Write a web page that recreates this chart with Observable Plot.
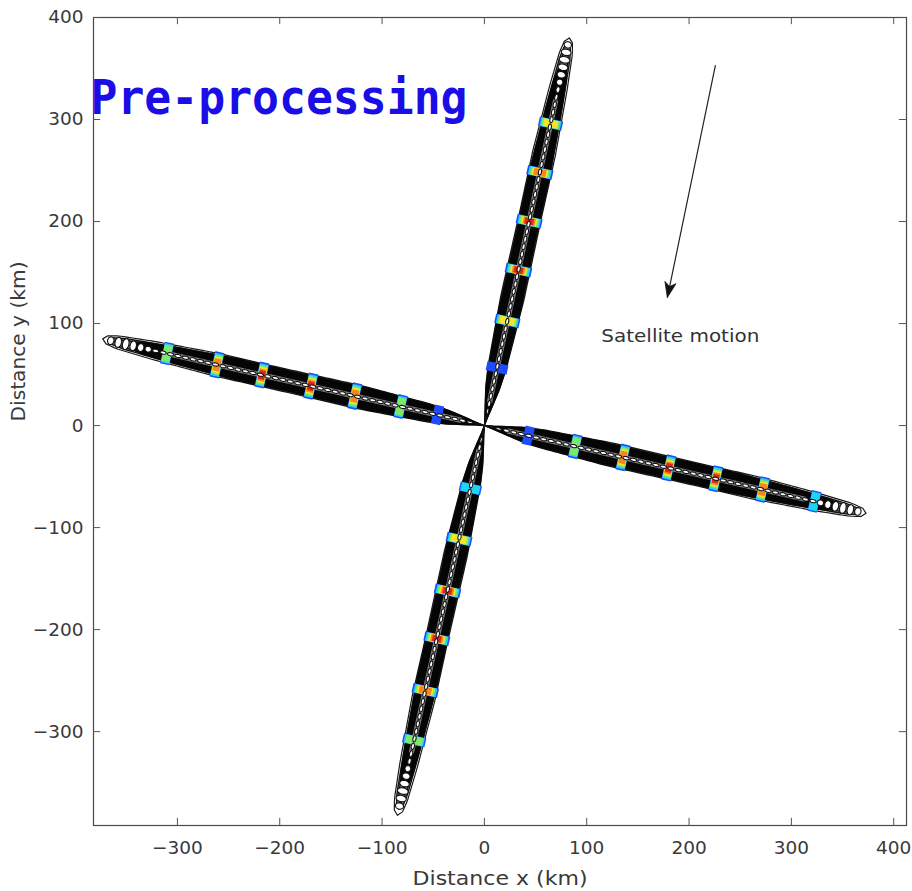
<!DOCTYPE html>
<html>
<head>
<meta charset="utf-8">
<script src="https://cdn.jsdelivr.net/npm/d3@7"></script>
<script src="https://cdn.jsdelivr.net/npm/@observablehq/plot@0.6"></script>
<style>
  body { margin: 0; background: #fff; }
  #chart svg { display: block; }
</style>
</head>
<body>
<div id="chart"></div>
<script>
// Axis ticks (km)
const xTicks = [-300, -200, -100, 0, 100, 200, 300, 400];
const yTicks = [-300, -200, -100, 0, 100, 200, 300, 400];
const xDomain = [-382, 412.5];
const yDomain = [-392, 400];

// The four arms of the cross: tip of each arm (km)
const armNames = ["north", "east", "south", "west"];
const armTipX = [83, 373, -85, -373];
const armTipY = [380, -86, -382, 85];

// Half-width (km) of the outer contour along an arm, at fractions of its length
const profileT = [0, 0.02, 0.05, 0.1, 0.15, 0.33, 0.55, 0.7, 0.87, 0.96, 0.99, 1];
const profileW = [0, 1.2, 3.5, 7, 9, 11.5, 11, 11.3, 8.8, 6.4, 4, 0];

// Hot spots along each arm: distance from the origin (km) and peak colour level (1 = blue ... 6 = red)
const northBlobDist = [58, 105, 156, 205, 254, 303];
const northBlobPeak = [1, 4, 6, 6, 5, 4];
const eastBlobDist = [44, 91, 139, 185, 232, 279, 331];
const eastBlobPeak = [1, 3, 5, 6, 6, 5, 2];
const southBlobDist = [63, 114, 166, 214, 266, 316];
const southBlobPeak = [2, 4, 6, 6, 5, 3];
const westBlobDist = [47, 84, 130, 174, 223, 268, 318];
const westBlobPeak = [1, 3, 5, 6, 6, 5, 3];

// Jet colour levels
const jetColors = ["#1f4cff", "#1fd3f2", "#7de86a", "#f4e52c", "#f6861f", "#e0261b"];

// Satellite motion arrow (km)
const arrowTail = {x: 225.7, y: 352.9};
const arrowHead = {x: 178.8, y: 125.5};
const arrowLabel = {x: 191.5, y: 87.2, text: "Satellite motion"};

const title = "Pre-processing";
const xLabel = "Distance x (km)";
const yLabel = "Distance y (km)";

// ---- geometry helpers ----
const blobDist = [northBlobDist, eastBlobDist, southBlobDist, westBlobDist];
const blobPeak = [northBlobPeak, eastBlobPeak, southBlobPeak, westBlobPeak];

const arms = armNames.map((name, i) => {
  const L = Math.hypot(armTipX[i], armTipY[i]);
  return {name, L, ux: armTipX[i] / L, uy: armTipY[i] / L};
});

// local (along, across) -> plot coordinates
const toXY = (a, s, n) => ({x: a.ux * s - a.uy * n, y: a.uy * s + a.ux * n});

function widthAt(t) {
  if (t <= 0 || t >= 1) return 0;
  const i = Math.min(profileT.length - 2, d3.bisectRight(profileT, t) - 1);
  const t0 = profileT[i], t1 = profileT[i + 1];
  return profileW[i] + (profileW[i + 1] - profileW[i]) * (t - t0) / (t1 - t0);
}

function spindle(a, lenFrac, scale, id, tStart = 0) {
  const N = 90, pts = [];
  for (let k = 0; k <= N; k++) {
    const t = tStart + (1 - tStart) * k / N;
    pts.push({id, ...toXY(a, t * a.L * lenFrac, widthAt(t) * scale)});
  }
  for (let k = N; k >= 0; k--) {
    const t = tStart + (1 - tStart) * k / N;
    pts.push({id, ...toXY(a, t * a.L * lenFrac, -widthAt(t) * scale)});
  }
  pts.push({...pts[0]});
  return pts;
}

function ellipse(a, s, along, across, id) {
  const pts = [];
  for (let k = 0; k <= 28; k++) {
    const th = 2 * Math.PI * k / 28;
    pts.push({id, ...toXY(a, s + along * Math.cos(th), across * Math.sin(th))});
  }
  return pts;
}

function band(a, s0, s1, h0, h1, id) {
  return [
    {id, ...toXY(a, s0, -h0)}, {id, ...toXY(a, s1, -h1)},
    {id, ...toXY(a, s1, h1)}, {id, ...toXY(a, s0, h0)}, {id, ...toXY(a, s0, -h0)}
  ];
}

const envelopes = [], bodies = [], hazes = [], strips = [], rings = [];
const blobLayers = jetColors.map(() => []);

arms.forEach((a, i) => {
  [[1, 1], [0.985, 0.8], [0.97, 0.6]].forEach(([lf, sc], j) =>
    envelopes.push(...spindle(a, lf, sc, `${a.name}-env${j}`)));
  bodies.push(...spindle(a, 0.93, 0.95, `${a.name}-body`, 0.01));
  hazes.push(...spindle(a, 0.985, 0.9, `${a.name}-haze`, 0.01));
  strips.push(...band(a, 0.06 * a.L, 0.84 * a.L, 2.6, 2.6, `${a.name}-strip`));

  blobDist[i].forEach((s, b) => {
    const p = blobPeak[i][b];
    const w = widthAt(s / a.L) + 1.5;
    for (let j = 0; j < p; j++) {
      const ha = w * (1 - 0.13 * j);
      const hl = 4.6 - 0.3 * j;
      blobLayers[j].push(...band(a, s - hl, s + hl, ha, ha, `${a.name}-b${b}-l${j}`));
    }
  });

  // chain of small closed contours down the middle of the arm, opening up toward the tip
  let k = 0;
  for (let s = 7; s < a.L - 3.5; s += 7.5, k++) {
    const t = s / a.L, w = widthAt(t);
    let across = Math.min(1.5, w * 0.4);
    if (t > 0.86) {
      const f = Math.min(1, (t - 0.86) / 0.08);
      across = across + (w * 0.78 - across) * f;
    }
    rings.push(...ellipse(a, s, 3.1, across, `${a.name}-r${k}`));
  }
});

// Arrow head: a notched triangle at the head end
const adx = arrowHead.x - arrowTail.x, ady = arrowHead.y - arrowTail.y;
const alen = Math.hypot(adx, ady), aux = adx / alen, auy = ady / alen;
const at = (back, side) => ({x: arrowHead.x - aux * back - auy * side, y: arrowHead.y - auy * back + aux * side});
const headPts = [at(0, 0), at(15, 5.5), at(11, 0), at(15, -5.5), at(0, 0)];
const shaftPts = [arrowTail, at(11, 0)];

const tickLen = 7;

const plot = Plot.plot({
  width: 912,
  height: 891,
  marginLeft: 93,
  marginRight: 6,
  marginTop: 17,
  marginBottom: 66,
  style: {fontFamily: "DejaVu Sans", fontSize: "18.5px", color: "#3a3a3a", background: "#fff"},
  x: {domain: xDomain, ticks: xTicks, tickSize: 0, tickPadding: 15, label: null},
  y: {domain: yDomain, ticks: yTicks, tickSize: 0, tickPadding: 10, label: null},
  marks: [
    // arms
    Plot.line(envelopes, {x: "x", y: "y", z: "id", stroke: "#1a1a1a", strokeWidth: 1.2, fill: "none"}),
    Plot.line(hazes, {x: "x", y: "y", z: "id", fill: "#000", fillOpacity: 0.5, stroke: "none"}),
    Plot.line(bodies, {x: "x", y: "y", z: "id", fill: "#050505", stroke: "#050505", strokeWidth: 0.8}),
    Plot.line(strips, {x: "x", y: "y", z: "id", fill: "#7a7a7a", stroke: "none"}),
    ...blobLayers.map((layer, j) =>
      Plot.line(layer, {x: "x", y: "y", z: "id", fill: jetColors[j], stroke: "none"})),
    Plot.line(rings, {x: "x", y: "y", z: "id", fill: "#fff", stroke: "#111", strokeWidth: 1.1}),

    // satellite motion arrow
    Plot.line(shaftPts, {x: "x", y: "y", stroke: "#222", strokeWidth: 1.2}),
    Plot.line(headPts, {x: "x", y: "y", fill: "#111", stroke: "#111", strokeWidth: 0.8}),
    Plot.text([arrowLabel], {x: "x", y: "y", text: "text", fontSize: 18, fill: "#333", fontFamily: "DejaVu Sans"}),

    // frame and inward ticks on all sides
    Plot.frame({stroke: "#4a4a4a", strokeWidth: 1.2}),
    Plot.ruleX(xTicks, {x: d => d, y1: yDomain[0], y2: yDomain[0] + tickLen, stroke: "#555"}),
    Plot.ruleX(xTicks, {x: d => d, y1: yDomain[1], y2: yDomain[1] - tickLen, stroke: "#555"}),
    Plot.ruleY(yTicks, {y: d => d, x1: xDomain[0], x2: xDomain[0] + tickLen, stroke: "#555"}),
    Plot.ruleY(yTicks, {y: d => d, x1: xDomain[1], x2: xDomain[1] - tickLen, stroke: "#555"}),

    // axis titles
    Plot.text([xLabel], {frameAnchor: "bottom", dy: 59, lineAnchor: "bottom", fontSize: 20, fill: "#3a3a3a"}),
    Plot.text([yLabel], {frameAnchor: "left", dx: -75, rotate: -90, lineAnchor: "middle", fontSize: 20, fill: "#3a3a3a"}),

    // overlay title
    Plot.text([title], {frameAnchor: "top-left", dx: -3, dy: 96, textAnchor: "start", lineAnchor: "bottom",
      fontFamily: "DejaVu Sans Mono", fontWeight: "bold", fontSize: 48, fill: "#1a0de6"})
  ]
});

// stretch a few texts to their drawn widths
const textWidths = new Map([[title, 377], [arrowLabel.text, 158], [xLabel, 175], [yLabel, 160]]);
d3.select(plot).selectAll("text")
  .filter(function () { return textWidths.has(this.textContent); })
  .attr("textLength", function () { return textWidths.get(this.textContent); })
  .attr("lengthAdjust", "spacingAndGlyphs");

document.getElementById("chart").append(plot);
</script>
</body>
</html>
